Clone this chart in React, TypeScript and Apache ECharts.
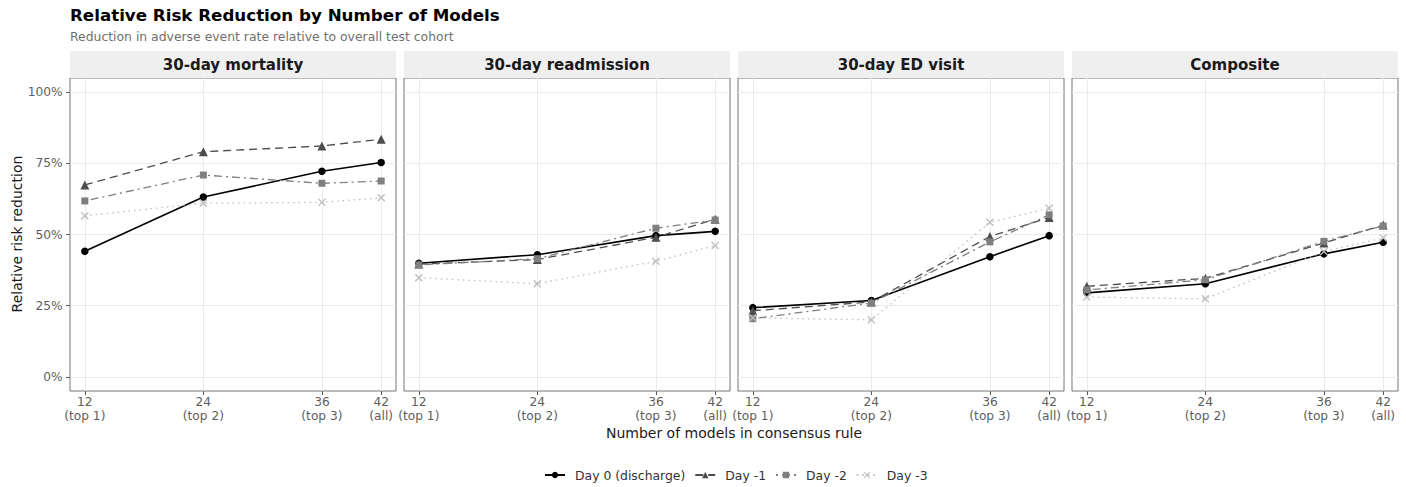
import React, { useEffect, useRef } from "react";
import * as echarts from "echarts";

const panelTitles = ["30-day mortality", "30-day readmission", "30-day ED visit", "Composite"];
const xValues = [12, 24, 36, 42];
const xTickLabels = ["12\n(top 1)", "24\n(top 2)", "36\n(top 3)", "42\n(all)"];
const yTicks = [0, 0.25, 0.5, 0.75, 1];
const seriesNames = ["Day 0 (discharge)", "Day -1", "Day -2", "Day -3"];

// values per panel (mortality, readmission, ED visit, composite), at 12/24/36/42 models
const day0Values = [
  [0.441, 0.632, 0.722, 0.753],
  [0.399, 0.429, 0.496, 0.511],
  [0.243, 0.268, 0.422, 0.496],
  [0.295, 0.327, 0.432, 0.473],
];
const dayM1Values = [
  [0.674, 0.791, 0.811, 0.835],
  [0.396, 0.412, 0.49, 0.554],
  [0.232, 0.263, 0.493, 0.56],
  [0.318, 0.346, 0.47, 0.533],
];
const dayM2Values = [
  [0.618, 0.709, 0.68, 0.688],
  [0.393, 0.415, 0.522, 0.551],
  [0.204, 0.259, 0.474, 0.569],
  [0.305, 0.341, 0.476, 0.53],
];
const dayM3Values = [
  [0.566, 0.61, 0.613, 0.629],
  [0.348, 0.327, 0.406, 0.461],
  [0.207, 0.2, 0.543, 0.592],
  [0.28, 0.274, 0.44, 0.488],
];

const FONT = "DejaVu Sans";
const X_SYMBOL =
  "path://M0,1.2L1.2,0L5,3.8L8.8,0L10,1.2L6.2,5L10,8.8L8.8,10L5,6.2L1.2,10L0,8.8L3.8,5Z";

const seriesStyles = [
  { color: "#000000", symbol: "circle", size: 7.5, width: 1.6, dash: "solid" as any },
  { color: "#4d4d4d", symbol: "triangle", size: 9, width: 1.3, dash: [8, 5] },
  { color: "#7f7f7f", symbol: "rect", size: 7, width: 1.3, dash: [2, 4, 8, 4] },
  { color: "#bdbdbd", symbol: X_SYMBOL, size: 8, width: 1.3, dash: [1.5, 4] },
];

export default function App() {
  const ref = useRef<HTMLDivElement>(null);

  useEffect(() => {
    document.body.style.margin = "0";
    if (!ref.current) return;
    const chart = echarts.init(ref.current, undefined, { renderer: "svg" });

    const gridLeft0 = 70;
    const gridStep = 334;
    const gridWidth = 326;
    const gridTop = 78;
    const gridHeight = 313;
    const stripTop = 51;
    const stripHeight = 27;

    const allValues = [day0Values, dayM1Values, dayM2Values, dayM3Values];

    const grids: any[] = [];
    const xAxes: any[] = [];
    const yAxes: any[] = [];
    const series: any[] = [];
    const graphics: any[] = [];

    panelTitles.forEach((title, p) => {
      const left = gridLeft0 + p * gridStep;
      grids.push({
        left,
        top: gridTop,
        width: gridWidth,
        height: gridHeight,
        show: true,
        backgroundColor: "#ffffff",
        borderColor: "#747474",
        borderWidth: 1,
      });
      xAxes.push({
        type: "value",
        gridIndex: p,
        min: 10.5,
        max: 43.5,
        axisLine: { show: false, onZero: false },
        axisTick: {
          show: true,
          customValues: xValues,
          length: 4,
          lineStyle: { color: "#555555" },
        },
        axisLabel: {
          customValues: xValues,
          formatter: (v: number) => xTickLabels[xValues.indexOf(v)] ?? "",
          color: "#5e5e5e",
          fontSize: 12.2,
          lineHeight: 14,
          margin: 4,
          fontFamily: FONT,
        },
        splitLine: { show: true, lineStyle: { color: "#ebebeb", width: 1 } },
      });
      yAxes.push({
        type: "value",
        gridIndex: p,
        min: -0.05,
        max: 1.05,
        axisLine: { show: false, onZero: false },
        axisTick: {
          show: p === 0,
          customValues: yTicks,
          length: 4,
          lineStyle: { color: "#555555" },
        },
        axisLabel: {
          show: p === 0,
          customValues: yTicks,
          formatter: (v: number) => Math.round(v * 100) + "%",
          color: "#5e5e5e",
          fontSize: 12.2,
          margin: 7.5,
          fontFamily: FONT,
        },
        splitLine: { show: true, lineStyle: { color: "#ebebeb", width: 1 } },
      });

      graphics.push({
        type: "rect",
        shape: { x: left, y: stripTop, width: gridWidth, height: stripHeight },
        style: { fill: "#efefef" },
        silent: true,
      });
      graphics.push({
        type: "text",
        x: left + gridWidth / 2,
        y: stripTop + stripHeight / 2,
        style: {
          text: title,
          align: "center",
          verticalAlign: "middle",
          fontFamily: FONT,
          fontWeight: "bold",
          fontSize: 15,
          fill: "#1a1a1a",
        },
        silent: true,
      });

      seriesNames.forEach((name, d) => {
        const st = seriesStyles[d];
        series.push({
          type: "line",
          name,
          xAxisIndex: p,
          yAxisIndex: p,
          data: xValues.map((x, k) => [x, allValues[d][p][k]]),
          symbol: st.symbol,
          symbolSize: st.size,
          showSymbol: true,
          lineStyle: { color: st.color, width: st.width, type: st.dash },
          itemStyle: { color: st.color },
          emphasis: { disabled: true },
        });
      });
    });

    graphics.push({
      type: "text",
      x: 16.5,
      y: 234,
      rotation: Math.PI / 2,
      style: {
        text: "Relative risk reduction",
        align: "center",
        verticalAlign: "middle",
        fontFamily: FONT,
        fontSize: 14,
        fill: "#1a1a1a",
      },
      silent: true,
    });
    graphics.push({
      type: "text",
      x: 734,
      y: 432.5,
      style: {
        text: "Number of models in consensus rule",
        align: "center",
        verticalAlign: "middle",
        fontFamily: FONT,
        fontSize: 14,
        fill: "#1a1a1a",
      },
      silent: true,
    });

    chart.setOption({
      animation: false,
      backgroundColor: "#ffffff",
      title: {
        text: "Relative Risk Reduction by Number of Models",
        subtext: "Reduction in adverse event rate relative to overall test cohort",
        left: 70,
        top: 6,
        padding: 0,
        itemGap: 7,
        textStyle: { fontFamily: FONT, fontWeight: "bold", fontSize: 16.7, color: "#000000" },
        subtextStyle: { fontFamily: FONT, fontSize: 12.4, color: "#707070" },
      },
      legend: {
        data: seriesNames,
        left: 544,
        top: 469,
        padding: 0,
        itemWidth: 20,
        itemHeight: 8,
        itemGap: 9,
        textStyle: { fontFamily: FONT, fontSize: 12.4, color: "#333333", padding: [0, 0, 0, 5] },
        selectedMode: false,
      },
      grid: grids,
      xAxis: xAxes,
      yAxis: yAxes,
      series,
      graphic: graphics,
    });

    return () => chart.dispose();
  }, []);

  return <div ref={ref} style={{ width: 1406, height: 487 }} />;
}
